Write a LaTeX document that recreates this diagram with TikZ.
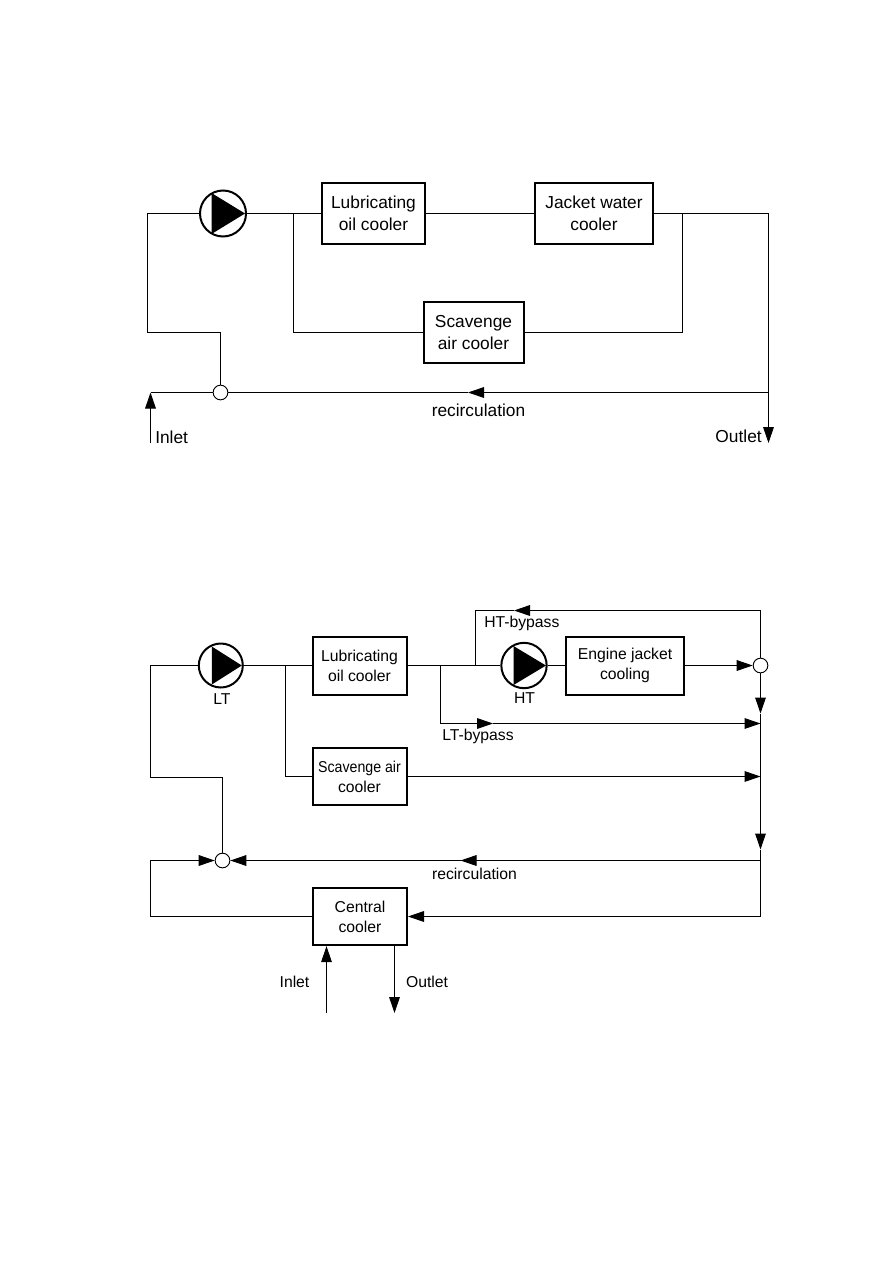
\documentclass[tikz,border=0pt]{standalone}
\usepackage{fontspec}
\setmainfont{Liberation Sans}
\usetikzlibrary{arrows.meta}
\tikzset{
  x=0.75pt, y=-0.75pt,
  pipe/.style={line width=0.75pt, black},
  flow/.style={pipe, -{Triangle[length=12pt,width=8pt,black]}},
  unit/.style={draw=black, line width=1.5pt, fill=white, align=center, inner sep=0pt},
  unita/.style={unit, font=\fontsize{13}{16.5}\selectfont},
  unitb/.style={unit, font=\fontsize{11.8}{15}\selectfont},
  pumpbody/.style={circle, draw=black, line width=1.5pt, fill=white, inner sep=0pt},
  junction/.style={circle, draw=black, line width=0.7pt, fill=white, inner sep=0pt, minimum size=11pt},
  labela/.style={inner sep=0pt, font=\fontsize{13}{16.5}\selectfont},
  labelb/.style={inner sep=0pt, font=\fontsize{11.8}{15}\selectfont},
}
\begin{document}
\begin{tikzpicture}
\fill[white] (0,0) rectangle (893,1263);
\useasboundingbox (0,0) rectangle (893,1263);

% --- Direct seawater system ---
\coordinate (a-tl) at (147.5,213.5);
\coordinate (a-bl) at (147.5,332.5);
\coordinate (a-bm) at (220.5,332.5);
\coordinate (a-split) at (293.5,213.5);
\coordinate (a-sb) at (293.5,332.5);
\coordinate (a-merge) at (682.5,213.5);
\coordinate (a-mb) at (682.5,332.5);
\coordinate (a-tr) at (768.5,213.5);
\coordinate (a-rr) at (768.5,392.5);
\coordinate (a-out) at (768.5,443);
\coordinate (a-in) at (150.5,443);
\coordinate (a-il) at (150.5,392.5);
\coordinate (a-rmid) at (468,392.5);

\node[pumpbody, minimum size=34.5pt] (a-pump) at (223,213.5) {};
\node[unita, minimum width=77pt, minimum height=46pt] (a-loc) at (373.5,213.5) {Lubricating\\oil cooler};
\node[unita, minimum width=88.5pt, minimum height=46pt] (a-jwc) at (594,213.5) {Jacket water\\cooler};
\node[unita, minimum width=75pt, minimum height=46pt] (a-sac) at (473.5,332.5) {Scavenge\\air cooler};
\node[junction] (a-j) at (220.5,392.5) {};

\fill ([shift={(-11.5,-20.5)}]a-pump.center) -- ([shift={(22,0)}]a-pump.center) -- ([shift={(-11.5,20.5)}]a-pump.center) -- cycle;

\draw[pipe] (a-pump.west) -- (a-tl) -- (a-bl) -- (a-bm) -- (a-j.north);
\draw[pipe] (a-pump.east) -- (a-loc.west);
\draw[pipe] (a-loc.east) -- (a-jwc.west);
\draw[pipe] (a-split) -- (a-sb) -- (a-sac.west);
\draw[pipe] (a-sac.east) -- (a-mb) -- (a-merge);
\draw[pipe] (a-jwc.east) -- (a-tr) -- (a-rr);
\draw[flow] (a-rr) -- (a-out);
\draw[flow] (a-rr) -- (a-rmid);
\draw[pipe] (a-rmid) -- (a-j.east);
\draw[pipe] (a-j.west) -- (a-il);
\draw[flow] (a-in) -- (a-il);

\node[labela] (a-t-rec) at (478.5,410.5) {recirculation};
\node[labela, anchor=west] (a-t-in) at (155,437) {Inlet};
\node[labela, anchor=east] (a-t-out) at (762,436.5) {Outlet};

% --- Central cooling system ---
\coordinate (b-tl) at (150.5,665.5);
\coordinate (b-bl) at (150.5,777.5);
\coordinate (b-bm) at (222.5,777.5);
\coordinate (b-split) at (285.5,665.5);
\coordinate (b-sb) at (285.5,776.5);
\coordinate (b-ltb) at (440.5,665.5);
\coordinate (b-ltc) at (440.5,723.5);
\coordinate (b-ltm) at (493,723.5);
\coordinate (b-lte) at (760.5,723.5);
\coordinate (b-htb) at (475.5,665.5);
\coordinate (b-htc) at (475.5,610.5);
\coordinate (b-htm) at (514,610.5);
\coordinate (b-htr) at (760.5,610.5);
\coordinate (b-sce) at (760.5,776.5);
\coordinate (b-rec) at (760.5,860.5);
\coordinate (b-rmid) at (460.5,860.5);
\coordinate (b-low) at (760.5,916.5);
\coordinate (b-v1) at (760.5,713.5);
\coordinate (b-v2) at (760.5,776.5);
\coordinate (b-v3) at (760.5,849.5);
\coordinate (b-l1) at (150.5,860.5);
\coordinate (b-l2) at (150.5,916.5);
\coordinate (b-in) at (326.5,1013);
\coordinate (b-out) at (394.5,1013);

\node[pumpbody, minimum size=33pt] (b-lt) at (220.8,665.5) {};
\node[pumpbody, minimum size=34pt] (b-ht) at (524,665.5) {};
\node[unitb, minimum width=70.5pt, minimum height=43.5pt] (b-loc) at (359.5,665.5) {Lubricating\\oil cooler};
\node[unitb, minimum width=70.5pt, minimum height=43pt] (b-sac) at (359.5,776.5) {\scalebox{0.9}[1]{Scavenge air}\\cooler};
\node[unitb, minimum width=70.5pt, minimum height=43pt] (b-cc) at (360,916.5) {Central\\cooler};
\node[unitb, minimum width=88.5pt, minimum height=43.5pt] (b-ejc) at (625,665.5) {Engine jacket\\cooling};
\node[junction] (b-jl) at (222.5,860.5) {};
\node[junction] (b-jr) at (760.5,665.5) {};

\fill ([shift={(-9,-19)}]b-lt.center) -- ([shift={(21,0)}]b-lt.center) -- ([shift={(-9,19)}]b-lt.center) -- cycle;
\fill ([shift={(-10.5,-19.5)}]b-ht.center) -- ([shift={(22,0)}]b-ht.center) -- ([shift={(-10.5,19.5)}]b-ht.center) -- cycle;

\draw[pipe] (b-lt.west) -- (b-tl) -- (b-bl) -- (b-bm) -- (b-jl.north);
\draw[pipe] (b-lt.east) -- (b-loc.west);
\draw[pipe] (b-split) -- (b-sb) -- (b-sac.west);
\draw[pipe] (b-loc.east) -- (b-ht.west);
\draw[pipe] (b-ht.east) -- (b-ejc.west);
\draw[flow] (b-ejc.east) -- (b-jr.west);
\draw[flow] (b-ltb) -- (b-ltc) -- (b-ltm);
\draw[flow] (b-ltm) -- (b-lte);
\draw[pipe] (b-jr.north) -- (b-htr);
\draw[flow] (b-htr) -- (b-htm);
\draw[pipe] (b-htm) -- (b-htc) -- (b-htb);
\draw[flow] (b-sac.east) -- (b-sce);
\draw[flow] (b-jr.south) -- (b-v1);
\draw[pipe] (b-v1) -- (b-v2);
\draw[flow] (b-v2) -- (b-v3);
\draw[pipe] (b-v3) -- (b-low);
\draw[flow] (b-low) -- (b-cc.east);
\draw[flow] (b-rec) -- (b-rmid);
\draw[flow] (b-rmid) -- (b-jl.east);
\draw[flow] (b-cc.west) -- (b-l2) -- (b-l1) -- (b-jl.west);
\draw[flow] (b-in) -- (b-cc.south -| b-in);
\draw[flow] (b-cc.south -| b-out) -- (b-out);

\node[labelb] (b-t-lt) at (222,699) {LT};
\node[labelb] (b-t-ht) at (524.5,698) {HT};
\node[labelb, anchor=west] (b-t-htb) at (484,623.5) {HT-bypass};
\node[labelb, anchor=west] (b-t-ltb) at (442,736.5) {LT-bypass};
\node[labelb] (b-t-rec) at (474.5,874) {recirculation};
\node[labelb] (b-t-in) at (294.5,982) {Inlet};
\node[labelb] (b-t-out) at (427,981.5) {Outlet};
\end{tikzpicture}
\end{document}
